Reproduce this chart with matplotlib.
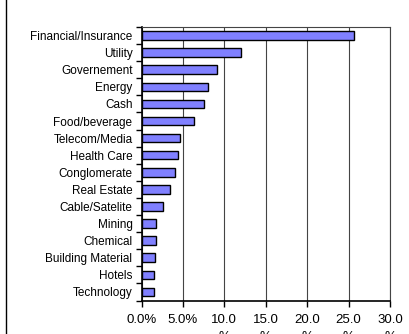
import matplotlib
matplotlib.use("Agg")
import matplotlib.pyplot as plt
from matplotlib.lines import Line2D

categories = ["Financial/Insurance", "Utility", "Governement", "Energy", "Cash",
              "Food/beverage", "Telecom/Media", "Health Care", "Conglomerate",
              "Real Estate", "Cable/Satelite", "Mining", "Chemical",
              "Building Material", "Hotels", "Technology"]
values = [25.7, 12.0, 9.1, 8.0, 7.6, 6.3, 4.7, 4.4, 4.0, 3.4, 2.6, 1.8, 1.7, 1.6, 1.5, 1.5]
xticks = [0, 5, 10, 15, 20, 25, 30]
xticklabels = ["0.0%", "5.0%", "10.0\n%", "15.0\n%", "20.0\n%", "25.0\n%", "30.0\n%"]

plt.rcParams['font.family'] = ['Liberation Sans', 'DejaVu Sans']

fig = plt.figure(figsize=(4.09, 3.34), dpi=100)
ax = fig.add_axes([141.5/409, 1-300.5/334, (390-141.5)/409, (300.5-27)/334])

ypos = list(range(len(categories)))
ax.barh(ypos, values, height=0.5, color='#8080FF', edgecolor='black', linewidth=1.0, zorder=3)
ax.set_ylim(len(categories)-0.5, -0.5)
ax.set_xlim(0, 30)

ax.set_yticks(ypos)
ax.set_yticklabels(categories, fontsize=8.5)
ax.tick_params(axis='y', length=0, pad=6.5)
ax.set_yticks([i - 0.5 for i in range(len(categories)+1)], minor=True)
ax.tick_params(axis='y', which='minor', length=4, width=1, direction='out', color='black')

ax.set_xticks(xticks)
ax.set_xticklabels(xticklabels, fontsize=9.5, linespacing=1.5, va='top')
ax.tick_params(axis='x', length=4, width=1, direction='out', pad=6, color='black')

ax.grid(axis='x', color='#444444', linewidth=0.8, zorder=0)
for s in ['top', 'right']:
    ax.spines[s].set_color('#444444')
    ax.spines[s].set_linewidth(0.8)
for s in ['left', 'bottom']:
    ax.spines[s].set_color('black')
    ax.spines[s].set_linewidth(1.2)

fig.add_artist(Line2D([5.5/409, 5.5/409], [0, 1], transform=fig.transFigure, color='black', linewidth=1.0))

fig.savefig("out.png", dpi=100)
